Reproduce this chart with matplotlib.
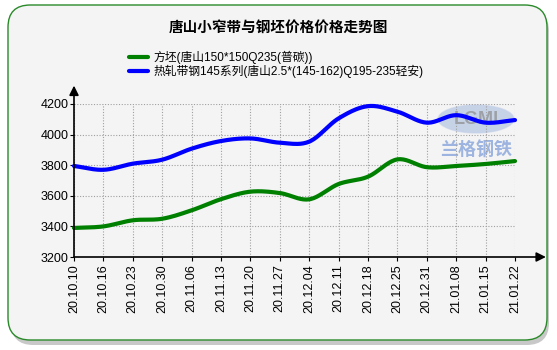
import numpy as np
import matplotlib
matplotlib.use("Agg")
import matplotlib.pyplot as plt
from matplotlib.patches import FancyBboxPatch, Ellipse

plt.rcParams['font.family'] = ['Liberation Sans', 'Noto Sans CJK SC', 'DejaVu Sans']

dates = ["20.10.10", "20.10.16", "20.10.23", "20.10.30", "20.11.06", "20.11.13",
         "20.11.20", "20.11.27", "20.12.04", "20.12.11", "20.12.18", "20.12.25",
         "20.12.31", "21.01.08", "21.01.15", "21.01.22"]
billet = [3390, 3400, 3440, 3450, 3505, 3578, 3627, 3618, 3577, 3677, 3725, 3838,
          3787, 3795, 3808, 3827]
strip = [3795, 3770, 3810, 3836, 3908, 3958, 3975, 3947, 3954, 4106, 4186, 4150,
         4078, 4127, 4078, 4095]
series_names = ["方坯(唐山150*150Q235(普碳))", "热轧带钢145系列(唐山2.5*(145-162)Q195-235轻安)"]
title = "唐山小窄带与钢坯价格价格走势图"
yticks = [3200, 3400, 3600, 3800, 4000, 4200]


def smooth(y, n=20):
    # Catmull-Rom spline through the data points (drawing only)
    y = np.asarray(y, float)
    x = np.arange(len(y), dtype=float)
    p = np.concatenate([[2 * y[0] - y[1]], y, [2 * y[-1] - y[-2]]])
    xs, ys = [], []
    for i in range(len(y) - 1):
        p0, p1, p2, p3 = p[i], p[i + 1], p[i + 2], p[i + 3]
        t = np.linspace(0, 1, n, endpoint=False)
        v = 0.5 * ((2 * p1) + (-p0 + p2) * t + (2 * p0 - 5 * p1 + 4 * p2 - p3) * t ** 2
                   + (-p0 + 3 * p1 - 3 * p2 + p3) * t ** 3)
        xs.append(x[i] + t)
        ys.append(v)
    xs.append([x[-1]])
    ys.append([y[-1]])
    return np.concatenate(xs), np.concatenate(ys)


W, H = 557, 350
fig = plt.figure(figsize=(W / 100, H / 100), dpi=100)
fig.patch.set_facecolor('white')

# shadow + panel
shadow = FancyBboxPatch((11 / W, 1 - 345 / H), 538 / W, 336 / H,
                        boxstyle="round,pad=0,rounding_size=0.04",
                        transform=fig.transFigure, facecolor='#c8c8c8', edgecolor='none',
                        zorder=-2, mutation_aspect=W / H)
fig.patches.append(shadow)
panel = FancyBboxPatch((8 / W, 1 - 340 / H), 539 / W, 335 / H,
                       boxstyle="round,pad=0,rounding_size=0.04",
                       transform=fig.transFigure, facecolor='#f4f4f4', edgecolor='#2a8a2a',
                       linewidth=1.0, zorder=-1, mutation_aspect=W / H)
fig.patches.append(panel)

fig.text(0.5, 1 - 27 / H, title, ha='center', va='center', fontsize=10.5,
         fontweight='bold', family=['Noto Sans CJK SC'])

ax = fig.add_axes([74 / W, 1 - 257 / H, 441 / W, 153 / H])
ax.set_zorder(1)
ax.set_facecolor('none')
n = len(dates)
x = np.arange(n)
ax.set_xlim(0, n - 1)
ax.set_ylim(3200, 4200)

xs, ys = smooth(billet)
l1, = ax.plot(xs, ys, color='#008000', lw=3, solid_capstyle='round', clip_on=False, zorder=3)
xs, ys = smooth(strip)
l2, = ax.plot(xs, ys, color='#0000ff', lw=3, solid_capstyle='round', clip_on=False, zorder=4)

ax.set_xticks(x)
ax.set_xticklabels(dates, rotation=90, fontsize=9)
ax.set_yticks(yticks)
ax.set_yticklabels([str(v) for v in yticks], fontsize=9)
ax.tick_params(axis='both', direction='out', length=3, width=0.8, color='black', pad=2)
ax.tick_params(axis='y', pad=1)
ax.grid(True, color='#a0a0a0', linestyle=(0, (1, 1.5)), linewidth=0.8)
for s in ['top', 'right', 'left', 'bottom']:
    ax.spines[s].set_visible(False)

# axes with arrows
ax.annotate('', xy=(0, 1.12), xytext=(0, 0), xycoords='axes fraction',
            arrowprops=dict(arrowstyle='-|>', color='black', lw=1.2, mutation_scale=14,
                            shrinkA=0, shrinkB=0), zorder=5)
ax.annotate('', xy=(1.07, 0), xytext=(0, 0), xycoords='axes fraction',
            arrowprops=dict(arrowstyle='-|>', color='black', lw=1.2, mutation_scale=14,
                            shrinkA=0, shrinkB=0), zorder=5)

# watermark (under the lines)
wm = Ellipse((476 / W, 1 - 119 / H), 76 / W, 28 / H, transform=fig.transFigure,
             facecolor='#9ab4dc', edgecolor='#c0cce8', alpha=0.5, zorder=1, clip_on=False)
ax.add_patch(wm)
ax.text(476 / W, 1 - 119 / H, "LGMI", transform=fig.transFigure, ha='center', va='center',
        fontsize=13, fontweight='bold', color='#8c8c8c', alpha=0.7, zorder=1)
ax.text(476 / W, 1 - 150 / H, "兰格钢铁", transform=fig.transFigure, ha='center', va='center',
        fontsize=13, color='#7f9fd8', alpha=0.75, family=['Noto Sans CJK SC'],
        fontweight='bold', zorder=1)

leg = fig.legend([l1, l2], series_names, loc='upper left',
                 bbox_to_anchor=(129 / W, 1 - 51 / H), frameon=False, fontsize=8.5,
                 handlelength=1.6, handletextpad=0.5, labelspacing=0.05,
                 borderaxespad=0, borderpad=0)
for line in leg.get_lines():
    line.set_linewidth(3)

fig.savefig("out.png", dpi=100, facecolor='white')
